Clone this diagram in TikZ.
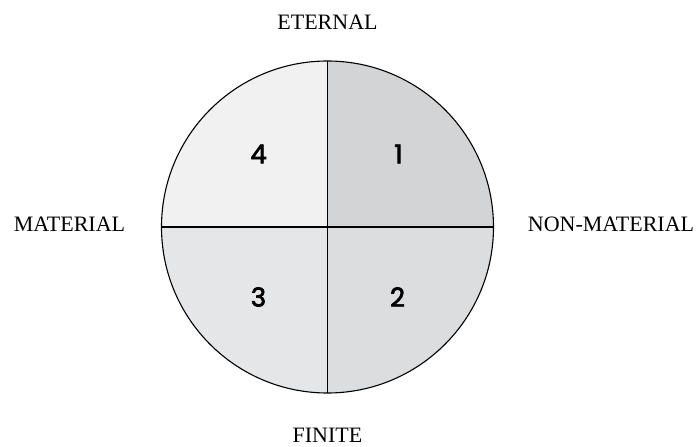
\documentclass[tikz,border=0pt]{standalone}
\usepackage{fontspec}
\setmainfont{Liberation Serif}
\newfontfamily\numfont[FakeBold=2.6]{Poppins}
\tikzset{
  axislabel/.style={font=\fontsize{22}{26}\selectfont},
  quadnum/.style={font=\numfont\fontsize{26}{30}\selectfont},
}
\definecolor{quadone}{HTML}{D3D4D6}
\definecolor{quadtwo}{HTML}{DCDDDF}
\definecolor{quadthree}{HTML}{E5E6E8}
\definecolor{quadfour}{HTML}{F1F1F2}
\begin{document}
\begin{tikzpicture}[x=1pt,y=1pt]
  \useasboundingbox (-327.5,-220) rectangle (369.5,227);
  % quadrants
  \fill[quadone] (0,0) -- (166,0) arc[start angle=0,end angle=90,radius=166] -- cycle;
  \fill[quadfour] (0,0) -- (0,166) arc[start angle=90,end angle=180,radius=166] -- cycle;
  \fill[quadthree] (0,0) -- (-166,0) arc[start angle=180,end angle=270,radius=166] -- cycle;
  \fill[quadtwo] (0,0) -- (0,-166) arc[start angle=270,end angle=360,radius=166] -- cycle;
  \draw[line width=1.1pt] (0,0) circle (166);
  \draw[line width=1.1pt] (-166,0) -- (166,0);
  \draw[line width=1.1pt] (0,-166) -- (0,166);
  % numbers
  \node[quadnum] (n1) at (71,73) {1};
  \node[quadnum] (n2) at (70,-70) {2};
  \node[quadnum] (n3) at (-69,-70) {3};
  \node[quadnum] (n4) at (-69,73) {4};
  % axis labels
  \node[axislabel] (eternal) at (0,205) {ETERNAL};
  \node[axislabel] (finite) at (0,-208) {FINITE};
  \node[axislabel] (material) at (-258,3) {MATERIAL};
  \node[axislabel] (nonmaterial) at (283.5,3) {NON-MATERIAL};
\end{tikzpicture}
\end{document}
